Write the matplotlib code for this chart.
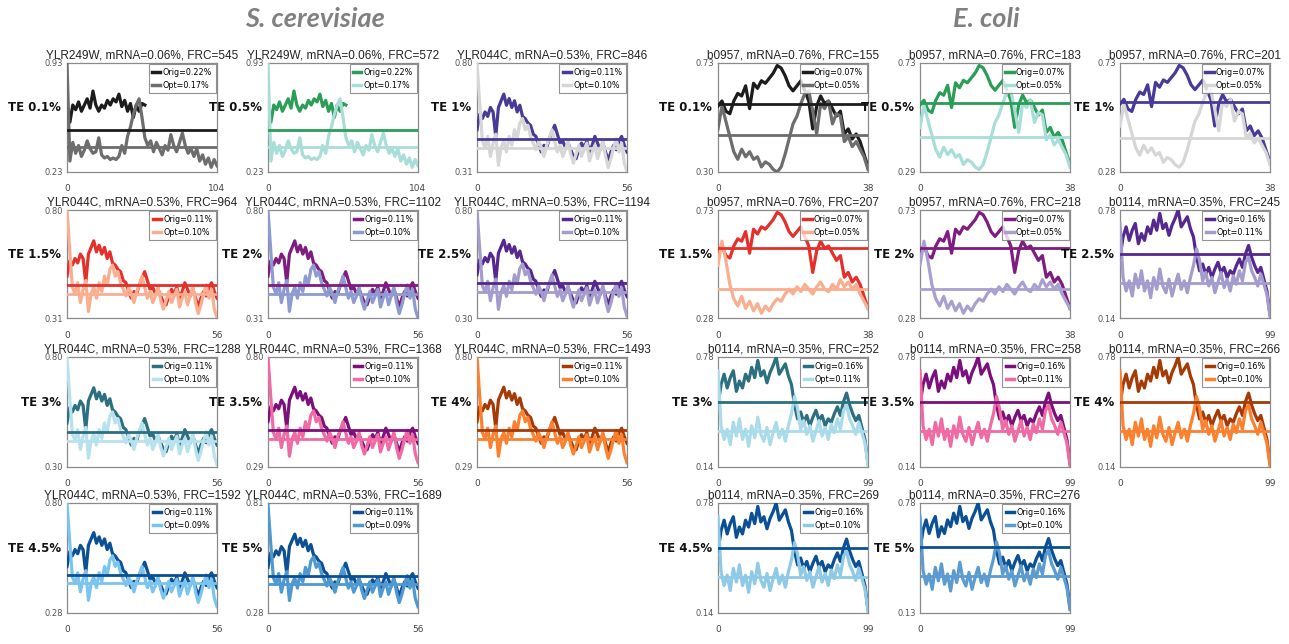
import numpy as np
import matplotlib.pyplot as plt

# ====== PANEL METADATA ======
te_levels = ["TE 0.1%", "TE 0.5%", "TE 1%", "TE 1.5%", "TE 2%", "TE 2.5%",
             "TE 3%", "TE 3.5%", "TE 4%", "TE 4.5%", "TE 5%"]

yeast_genes = ["YLR249W", "YLR249W"] + ["YLR044C"] * 9
yeast_mrna = [0.06, 0.06] + [0.53] * 9
yeast_frc = [545, 572, 846, 964, 1102, 1194, 1288, 1368, 1493, 1592, 1689]
yeast_orig_te = [0.22, 0.22] + [0.11] * 9
yeast_opt_te = [0.17, 0.17, 0.10, 0.10, 0.10, 0.10, 0.10, 0.10, 0.10, 0.09, 0.09]
yeast_ymin = [0.23, 0.23, 0.31, 0.31, 0.31, 0.30, 0.30, 0.29, 0.29, 0.28, 0.28]
yeast_ymax = [0.93, 0.93, 0.80, 0.80, 0.80, 0.80, 0.80, 0.80, 0.80, 0.80, 0.81]

ecoli_genes = ["b0957"] * 5 + ["b0114"] * 6
ecoli_mrna = [0.76] * 5 + [0.35] * 6
ecoli_frc = [155, 183, 201, 207, 218, 245, 252, 258, 266, 269, 276]
ecoli_orig_te = [0.07] * 5 + [0.16] * 6
ecoli_opt_te = [0.05] * 5 + [0.11, 0.11, 0.11, 0.10, 0.10, 0.10]
ecoli_ymin = [0.30, 0.29, 0.28, 0.28, 0.28, 0.14, 0.14, 0.14, 0.14, 0.14, 0.13]
ecoli_ymax = [0.73, 0.73, 0.73, 0.73, 0.73, 0.78, 0.78, 0.78, 0.78, 0.78, 0.78]

# ====== WINDOW PROFILES ======
# YLR249W: 104 windows, sampled every 2nd window; original covers first 54
ylr249w_windows = 104
ylr249w_orig_end = 54
ylr249w_orig = [0.62, 0.55, 0.66, 0.63, 0.68, 0.62, 0.66, 0.70, 0.64, 0.75,
                0.66, 0.62, 0.66, 0.64, 0.69, 0.66, 0.70, 0.68, 0.73, 0.65,
                0.69, 0.62, 0.67, 0.58, 0.66, 0.62, 0.67, 0.66]
ylr249w_opt = [0.93, 0.30, 0.42, 0.35, 0.40, 0.33, 0.37, 0.43, 0.38, 0.35,
               0.36, 0.45, 0.34, 0.32, 0.33, 0.31, 0.32, 0.31, 0.33, 0.40,
               0.35, 0.46, 0.52, 0.60, 0.66, 0.70, 0.58, 0.45, 0.40, 0.43,
               0.36, 0.42, 0.38, 0.34, 0.40, 0.37, 0.47, 0.40, 0.36, 0.42,
               0.48, 0.40, 0.35, 0.38, 0.33, 0.38, 0.30, 0.34, 0.28, 0.32,
               0.26, 0.31, 0.27]
ylr249w_orig_mean = 0.50
ylr249w_opt_mean = 0.39

# YLR044C: 56 windows
ylr044c_windows = 56
ylr044c_orig = [0.50, 0.57, 0.55, 0.58, 0.56, 0.60, 0.58, 0.47, 0.60, 0.63,
                0.66, 0.61, 0.64, 0.60, 0.63, 0.58, 0.61, 0.56, 0.55, 0.53,
                0.52, 0.48, 0.47, 0.43, 0.40, 0.43, 0.42, 0.46, 0.49, 0.52,
                0.48, 0.44, 0.45, 0.42, 0.44, 0.41, 0.38, 0.37, 0.41, 0.44,
                0.42, 0.45, 0.40, 0.43, 0.47, 0.44, 0.41, 0.44, 0.40, 0.36,
                0.40, 0.43, 0.41, 0.45, 0.47, 0.43, 0.40]
ylr044c_opt = [0.80, 0.62, 0.45, 0.42, 0.47, 0.38, 0.44, 0.48, 0.34, 0.42,
               0.45, 0.40, 0.47, 0.43, 0.50, 0.46, 0.53, 0.55, 0.50, 0.52,
               0.47, 0.44, 0.41, 0.45, 0.42, 0.38, 0.43, 0.46, 0.50, 0.45,
               0.40, 0.43, 0.38, 0.41, 0.45, 0.39, 0.35, 0.39, 0.43, 0.38,
               0.41, 0.44, 0.36, 0.40, 0.43, 0.37, 0.41, 0.45, 0.38, 0.33,
               0.37, 0.42, 0.46, 0.40, 0.44, 0.35, 0.31]
ylr044c_orig_mean = 0.46
ylr044c_opt_mean = 0.42

# b0957: 38 windows
b0957_windows = 38
b0957_orig = [0.56, 0.58, 0.54, 0.53, 0.58, 0.61, 0.60, 0.64, 0.55, 0.65,
              0.63, 0.66, 0.65, 0.67, 0.69, 0.72, 0.71, 0.68, 0.64, 0.62,
              0.64, 0.66, 0.62, 0.58, 0.47, 0.56, 0.60, 0.57, 0.58, 0.55,
              0.52, 0.54, 0.45, 0.47, 0.43, 0.45, 0.42, 0.37, 0.32]
b0957_opt = [0.47, 0.56, 0.50, 0.44, 0.38, 0.35, 0.39, 0.36, 0.38, 0.35,
             0.36, 0.32, 0.34, 0.33, 0.31, 0.30, 0.32, 0.37, 0.43, 0.49,
             0.52, 0.57, 0.61, 0.62, 0.54, 0.45, 0.57, 0.55, 0.58, 0.49,
             0.53, 0.52, 0.42, 0.44, 0.40, 0.42, 0.39, 0.36, 0.31]
b0957_opt_low = [0.50, 0.60, 0.52, 0.42, 0.36, 0.33, 0.37, 0.32, 0.35, 0.31,
                 0.34, 0.30, 0.33, 0.31, 0.34, 0.36, 0.35, 0.38, 0.40, 0.38,
                 0.41, 0.39, 0.42, 0.40, 0.38, 0.41, 0.43, 0.40, 0.39, 0.42,
                 0.40, 0.44, 0.41, 0.43, 0.40, 0.42, 0.38, 0.35, 0.32]
b0957_orig_mean = 0.57
b0957_opt_means = [0.445, 0.43, 0.42, 0.40, 0.40]

# b0114: 99 windows, sampled evenly
b0114_windows = 99
b0114_orig = [0.50, 0.62, 0.68, 0.60, 0.66, 0.70, 0.58, 0.64, 0.60, 0.68,
              0.64, 0.72, 0.66, 0.76, 0.67, 0.70, 0.63, 0.69, 0.73, 0.78,
              0.68, 0.71, 0.74, 0.67, 0.62, 0.50, 0.42, 0.46, 0.40, 0.44,
              0.38, 0.43, 0.47, 0.41, 0.44, 0.38, 0.42, 0.40, 0.45, 0.49,
              0.44, 0.52, 0.57, 0.50, 0.45, 0.41, 0.44, 0.37, 0.30, 0.16]
b0114_opt = [0.70, 0.38, 0.30, 0.36, 0.27, 0.40, 0.32, 0.42, 0.30, 0.36,
             0.26, 0.38, 0.31, 0.43, 0.33, 0.29, 0.37, 0.27, 0.34, 0.40,
             0.31, 0.36, 0.29, 0.38, 0.45, 0.55, 0.48, 0.36, 0.41, 0.33,
             0.38, 0.29, 0.35, 0.41, 0.32, 0.37, 0.30, 0.39, 0.34, 0.42,
             0.36, 0.47, 0.50, 0.42, 0.38, 0.33, 0.40, 0.34, 0.28, 0.15]
b0114_orig_mean = 0.52
b0114_opt_mean = 0.35

# ====== COLOURS (orig / opt per TE level) ======
yeast_orig_colors = ["#1c1c1c", "#2a9d57", "#4a3a97", "#e4302a", "#7e1c80", "#55288f",
                     "#2b6f80", "#7b0f7c", "#a63a06", "#0b4f95", "#0b4f95"]
yeast_opt_colors = ["#6d6d6d", "#a9ddd8", "#d6d6d6", "#f9ae8f", "#8d9bd0", "#a39ccd",
                    "#b7e1ee", "#f06aa4", "#fb8130", "#7cc4f0", "#4f98d0"]
ecoli_orig_colors = yeast_orig_colors
ecoli_opt_colors = ["#6d6d6d", "#a9ddd8", "#d6d6d6", "#f9ae8f", "#a9a0d0", "#a39ccd",
                    "#aadbea", "#f06aa4", "#fb8130", "#8ecae6", "#5b9bd0"]

# ====== LAYOUT (pixels) ======
W, H = 1289, 644
col_left = [67, 268, 477, 718, 920, 1120]
col_width = 150
row_top = [63, 210, 357, 503]
row_height = [109, 108, 110, 110]

fig = plt.figure(figsize=(W / 100, H / 100), dpi=100)


def window_x(vals, end):
    return np.linspace(0, end, len(vals))


def draw_panel(col, row, te, title, orig, opt, orig_end, n_win, orig_mean, opt_mean,
               orig_te, opt_te, c_orig, c_opt, ymin, ymax):
    l, t, h = col_left[col], row_top[row], row_height[row]
    ax = fig.add_axes([l / W, 1 - (t + h) / H, col_width / W, h / H])
    l1, = ax.plot(window_x(orig, orig_end), orig, color=c_orig, lw=2.3,
                  solid_joinstyle="round", zorder=3)
    l2, = ax.plot(window_x(opt, n_win), opt, color=c_opt, lw=2.3,
                  solid_joinstyle="round", zorder=3)
    ax.axhline(orig_mean, color=c_orig, lw=2, zorder=4)
    ax.axhline(opt_mean, color=c_opt, lw=2, zorder=4)
    ax.set_xlim(0, n_win)
    ax.set_ylim(ymin, ymax)
    ax.set_xticks([0, n_win])
    ax.set_xticklabels(["0", str(n_win)])
    ax.set_yticks([ymin, ymax])
    ax.set_yticklabels([f"{ymin:.2f}", f"{ymax:.2f}"])
    ax.tick_params(axis="y", length=0, labelsize=6, labelcolor="#555555", pad=3)
    ax.tick_params(axis="x", length=0, labelsize=6.5, labelcolor="#444444", pad=9)
    for s in ax.spines.values():
        s.set_color("#8a8a8a")
        s.set_linewidth(0.9)
    ax.set_title(title, fontsize=8.5, pad=3, color="#222222", family="Liberation Sans")
    leg = ax.legend([l1, l2], [f"Orig={orig_te:.2f}%", f"Opt={opt_te:.2f}%"],
                    loc="upper right", fontsize=5.8, frameon=True, fancybox=False,
                    handlelength=1.0, handletextpad=0.3, labelspacing=0.5,
                    borderpad=0.45, borderaxespad=0.15)
    leg.get_frame().set_edgecolor("#777777")
    leg.get_frame().set_linewidth(0.8)
    for hnd in leg.legend_handles:
        hnd.set_linewidth(2.5)
    leg.set_zorder(6)
    fig.text((l - 6) / W, 1 - (t + h * 0.41) / H, te, ha="right", va="center",
             fontsize=8.5, fontweight="bold", color="#111111")


# ====== S. CEREVISIAE ======
for i in range(11):
    col, row = i % 3, i // 3
    if i < 2:
        orig, opt, orig_end, n_win = ylr249w_orig, ylr249w_opt, ylr249w_orig_end, ylr249w_windows
        om, pm = ylr249w_orig_mean, ylr249w_opt_mean
    else:
        orig, opt, orig_end, n_win = ylr044c_orig, ylr044c_opt, ylr044c_windows, ylr044c_windows
        om, pm = ylr044c_orig_mean, ylr044c_opt_mean
    title = f"{yeast_genes[i]}, mRNA={yeast_mrna[i]:.2f}%, FRC={yeast_frc[i]}"
    draw_panel(col, row, te_levels[i], title, orig, opt, orig_end, n_win, om, pm,
               yeast_orig_te[i], yeast_opt_te[i], yeast_orig_colors[i],
               yeast_opt_colors[i], yeast_ymin[i], yeast_ymax[i])

# ====== E. COLI ======
for i in range(11):
    col, row = 3 + i % 3, i // 3
    if i < 5:
        opt = b0957_opt if i < 3 else b0957_opt_low
        orig, n_win = b0957_orig, b0957_windows
        om, pm = b0957_orig_mean, b0957_opt_means[i]
    else:
        orig, opt, n_win = b0114_orig, b0114_opt, b0114_windows
        om, pm = b0114_orig_mean, b0114_opt_mean
    title = f"{ecoli_genes[i]}, mRNA={ecoli_mrna[i]:.2f}%, FRC={ecoli_frc[i]}"
    draw_panel(col, row, te_levels[i], title, orig, opt, n_win, n_win, om, pm,
               ecoli_orig_te[i], ecoli_opt_te[i], ecoli_orig_colors[i],
               ecoli_opt_colors[i], ecoli_ymin[i], ecoli_ymax[i])

fig.text(315 / W, 1 - 19 / H, "S. cerevisiae", ha="center", va="center",
         fontsize=19.5, fontstyle="italic", fontweight="bold", color="#808080",
         family="Lato")
fig.text(986 / W, 1 - 19 / H, "E. coli", ha="center", va="center",
         fontsize=19.5, fontstyle="italic", fontweight="bold", color="#808080",
         family="Lato")

fig.savefig("out.png", dpi=100)
